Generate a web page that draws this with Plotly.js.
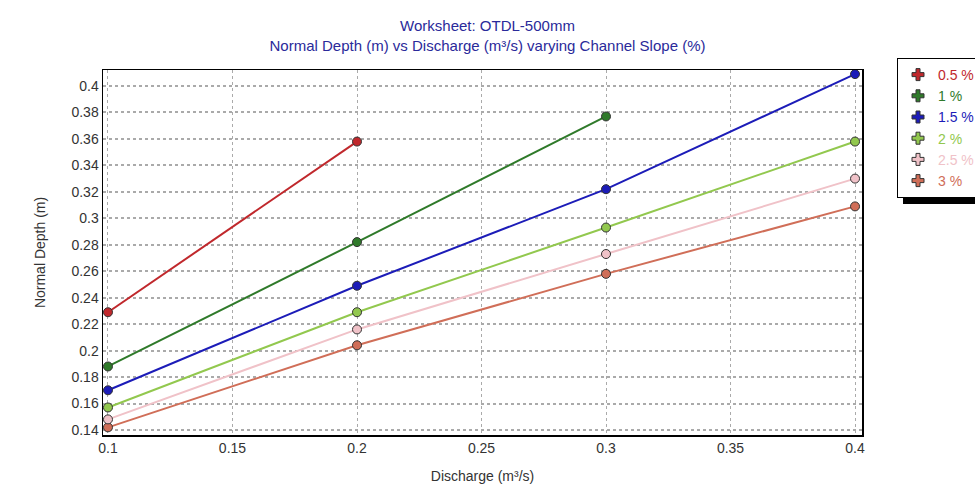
<!DOCTYPE html>
<html><head><meta charset="utf-8">
<script src="https://cdn.plot.ly/plotly-3.0.1.min.js"></script>
<style>html,body{margin:0;padding:0;background:#fff}#chart{width:975px;height:489px}</style>
</head><body><div id="chart"></div>
<script>
const seriesNames = ['0.5 %', '1 %', '1.5 %', '2 %', '2.5 %', '3 %'];
const seriesColors = ['#c0282c', '#2f7a2a', '#1c1cb8', '#92c84e', '#f0c2c8', '#d06e58'];
const discharge05 = [0.1, 0.2];
const depth05 = [0.229, 0.358];
const discharge1 = [0.1, 0.2, 0.3];
const depth1 = [0.188, 0.282, 0.377];
const discharge15 = [0.1, 0.2, 0.3, 0.4];
const depth15 = [0.17, 0.249, 0.322, 0.409];
const discharge2 = [0.1, 0.2, 0.3, 0.4];
const depth2 = [0.157, 0.229, 0.293, 0.358];
const discharge25 = [0.1, 0.2, 0.3, 0.4];
const depth25 = [0.148, 0.216, 0.273, 0.330];
const discharge3 = [0.1, 0.2, 0.3, 0.4];
const depth3 = [0.142, 0.204, 0.258, 0.309];
const xTicks = [0.1, 0.15, 0.2, 0.25, 0.3, 0.35, 0.4];
const yTicks = [0.14, 0.16, 0.18, 0.2, 0.22, 0.24, 0.26, 0.28, 0.3, 0.32, 0.34, 0.36, 0.38, 0.4];

const xs = [discharge05, discharge1, discharge15, discharge2, discharge25, discharge3];
const ys = [depth05, depth1, depth15, depth2, depth25, depth3];

const traces = [];
for (let i = 5; i >= 0; i--) {
  traces.push({
    x: xs[i], y: ys[i], type: 'scatter', mode: 'lines+markers',
    line: {color: seriesColors[i], width: 2},
    marker: {color: seriesColors[i], size: 9, line: {color: '#333', width: 1}},
    showlegend: false, hoverinfo: 'skip'
  });
}
for (let i = 0; i < 6; i++) {
  traces.push({
    x: [null], y: [null], type: 'scatter', mode: 'markers',
    name: '<span style="color:' + seriesColors[i] + '">' + seriesNames[i] + '</span>',
    marker: {color: seriesColors[i], size: 10, symbol: 'cross', line: {color: '#333', width: 1}},
    showlegend: true, legendgroup: 'g' + i
  });
}

const tickFont = {family: 'Arial, Liberation Sans, sans-serif', size: 14, color: '#333'};
const layout = {
  width: 975, height: 489,
  margin: {l: 103, r: 113, t: 70, b: 54, autoexpand: false},
  paper_bgcolor: '#fff', plot_bgcolor: '#fff',
  title: {
    text: 'Worksheet: OTDL-500mm<br>Normal Depth (m) vs Discharge (m³/s) varying Channel Slope (%)',
    font: {family: 'Arial, Liberation Sans, sans-serif', size: 15, color: '#2a2a9a'},
    x: 0.5, xanchor: 'center', xref: 'container', yref: 'container',
    y: 1 - 31 / 489, yanchor: 'middle'
  },
  xaxis: {
    range: [0.098, 0.4028], tickvals: xTicks, ticktext: xTicks.map(String),
    showgrid: true, gridcolor: '#aaa', griddash: 'dot', gridwidth: 1,
    showline: true, linecolor: '#000', linewidth: 1.5, mirror: true,
    zeroline: false, ticks: '', tickfont: tickFont,
    title: {text: 'Discharge (m³/s)', font: tickFont, standoff: 16}
  },
  yaxis: {
    range: [0.1362, 0.4121], tickvals: yTicks, ticktext: yTicks.map(String),
    showgrid: true, gridcolor: '#aaa', griddash: 'dot', gridwidth: 2,
    showline: true, linecolor: '#000', linewidth: 1.5, mirror: true,
    zeroline: false, ticks: '', tickfont: tickFont,
    title: {text: 'Normal Depth (m)', font: tickFont, standoff: 22}
  },
  legend: {
    xref: 'container', yref: 'container',
    x: 897 / 975, xanchor: 'left', y: 1 - 58 / 489, yanchor: 'top',
    bgcolor: '#fff', bordercolor: '#000', borderwidth: 1,
    font: {family: 'Arial, Liberation Sans, sans-serif', size: 14},
    tracegroupgap: 0, traceorder: 'grouped', itemwidth: 30
  },
  shapes: [{
    type: 'rect', xref: 'paper', yref: 'paper',
    x0: (903 - 103) / 759, x1: 1.2, y0: (435 - 204) / 365, y1: (435 - 64) / 365,
    fillcolor: '#000', line: {width: 0}
  }],
  showlegend: true
};
Plotly.newPlot('chart', traces, layout, {displayModeBar: false, staticPlot: true});
</script></body></html>
